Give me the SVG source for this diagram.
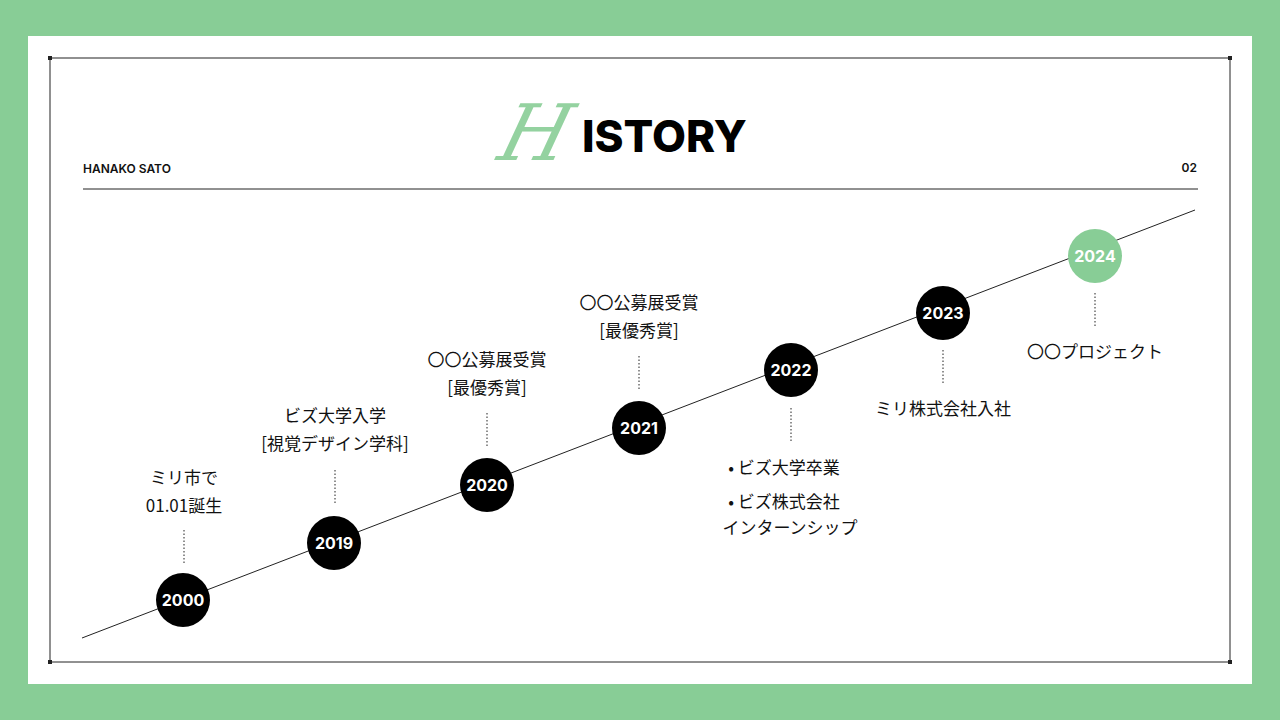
<svg xmlns="http://www.w3.org/2000/svg" width="1280" height="720" viewBox="0 0 1280 720">
<style>
.t{font-family:"Noto Sans CJK JP","Noto Sans",sans-serif;font-size:17px;fill:#111;text-anchor:middle}
.y{font-family:"Inter","Liberation Sans",sans-serif;font-size:16px;font-weight:700;fill:#fff;text-anchor:middle}
.d{stroke:#222;stroke-width:1;stroke-dasharray:1.5 2}
.s{font-family:"Inter","Liberation Sans",sans-serif;font-size:12px;font-weight:600;fill:#111}
</style>
<rect width="1280" height="720" fill="#88cd96"/>
<rect x="28" y="36" width="1224" height="648" fill="#fff"/>
<rect x="50" y="58" width="1180" height="604" fill="none" stroke="#222" stroke-width="1"/>
<g fill="#222"><rect x="48" y="56" width="4" height="4"/><rect x="1228" y="56" width="4" height="4"/><rect x="48" y="660" width="4" height="4"/><rect x="1228" y="660" width="4" height="4"/></g>
<text x="83" y="173" class="s">HANAKO SATO</text>
<text x="1197" y="172" class="s" text-anchor="end">02</text>
<line x1="83" y1="189" x2="1198" y2="189" stroke="#222"/>
<text x="582" y="152" font-family="Inter,'Liberation Sans',sans-serif" font-size="44" font-weight="800" fill="#000">ISTORY</text>
<text x="498" y="160" font-family="'DejaVu Serif','Liberation Serif',serif" font-style="italic" font-size="78" fill="#88cd96" fill-opacity="0.9" transform="skewX(-15) translate(40,0)">H</text>
<g id="connectors">
<line x1="82" y1="638" x2="1195" y2="210" stroke="#222" stroke-width="1"/>
<line x1="184" y1="530" x2="184" y2="564" class="d"/>
<line x1="335" y1="470" x2="335" y2="504" class="d"/>
<line x1="487" y1="413" x2="487" y2="447" class="d"/>
<line x1="639" y1="356" x2="639" y2="390" class="d"/>
<line x1="791" y1="408" x2="791" y2="442" class="d"/>
<line x1="943" y1="350" x2="943" y2="384" class="d"/>
<line x1="1095" y1="293" x2="1095" y2="327" class="d"/>
</g>
<g id="n2000"><circle cx="183" cy="600" r="27" fill="#000"/><text x="183" y="606" class="y">2000</text><text x="184" y="484" class="t">ミリ市で</text><text x="184" y="512" class="t">01.01誕生</text></g>
<g id="n2019"><circle cx="334" cy="543" r="27" fill="#000"/><text x="334" y="549" class="y">2019</text><text x="335" y="422" class="t">ビズ大学入学</text><text x="335" y="450" class="t">[視覚デザイン学科]</text></g>
<g id="n2020"><circle cx="487" cy="485" r="27" fill="#000"/><text x="487" y="491" class="y">2020</text><text x="487" y="366" class="t">〇〇公募展受賞</text><text x="487" y="394" class="t">[最優秀賞]</text></g>
<g id="n2021"><circle cx="639" cy="428" r="27" fill="#000"/><text x="639" y="434" class="y">2021</text><text x="639" y="309" class="t">〇〇公募展受賞</text><text x="639" y="337" class="t">[最優秀賞]</text></g>
<g id="n2022"><circle cx="791" cy="370" r="27" fill="#000"/><text x="791" y="376" class="y">2022</text><text x="784" y="474" class="t">• ビズ大学卒業</text><text x="784" y="508" class="t">• ビズ株式会社</text><text x="790" y="534" class="t">インターンシップ</text></g>
<g id="n2023"><circle cx="943" cy="313" r="27" fill="#000"/><text x="943" y="319" class="y">2023</text><text x="943" y="415" class="t">ミリ株式会社入社</text></g>
<g id="n2024"><circle cx="1095" cy="256" r="27" fill="#88cd96"/><text x="1095" y="262" class="y">2024</text><text x="1095" y="358" class="t">〇〇プロジェクト</text></g>
</svg>
